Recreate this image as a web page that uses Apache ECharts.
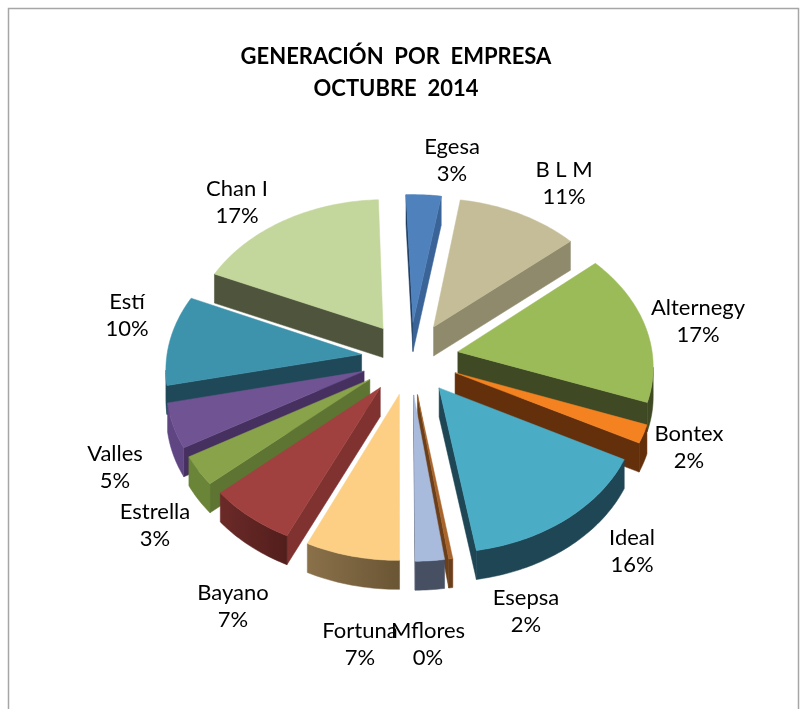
<!DOCTYPE html>
<html>
<head>
<meta charset="utf-8">
<style>html,body{margin:0;padding:0;background:#fff}#c{width:811px;height:709px}</style>
<script src="https://cdn.jsdelivr.net/npm/echarts@6/dist/echarts.min.js"></script>
</head>
<body>
<div id="c"></div>
<script>
// ---- data (clockwise from the top) ----
const names = ['Egesa','B L M','Alternegy','Bontex','Ideal','Mflores','Esepsa','Fortuna','Bayano','Estrella','Valles','Estí','Chan I'];
const values = [3.2,11.2,16.8,2.0,14.9,0.3,2.15,7.0,6.6,3.2,4.9,10.0,17.8];
const labelPercents = {'Egesa':'3%','B L M':'11%','Alternegy':'17%','Bontex':'2%','Ideal':'16%','Esepsa':'2%','Mflores':'0%','Fortuna':'7%','Bayano':'7%','Estrella':'3%','Valles':'5%','Estí':'10%','Chan I':'17%'};
const titleLines = ['GENERACIÓN  POR  EMPRESA','OCTUBRE  2014'];

// ---- style ----
const topColors  = ['#4F81BD','#C4BD97','#9BBB59','#F58220','#4BACC6','#A8642A','#A9BBDC','#FCCF85','#A0413F','#88A34A','#6F5393','#3E93AC','#C3D69B'];
const sideColors = ['#3A6497','#8F8A6C','#3F4A24','#64300C','#1F4655','#6B3F1A','#474F63','#7A6340','#7F3230','#5E7433','#46305F','#1F4958','#4F553C'];
const rimColors  = ['#3A6497','#8F8A6C','#3F4A24','#64300C','#1F4655','#6B3F1A','#474F63',['#8A714A','#6A5534'],['#6B2A28','#521E1C'],'#6A8438','#5F4683','#1F4958','#4F553C'];
const startDeg = -2.2, explode = 0.25, depth = 29;
const cx = 410, cy = 358, rx = 195, ry = 145, persp = 0.087;
const labelCenters = {'Egesa':[452,160],'B L M':[564,183],'Alternegy':[698,321],'Bontex':[689,447],'Ideal':[632,551],'Esepsa':[526,611],'Mflores':[428,644],'Fortuna':[360,644],'Bayano':[233,606],'Estrella':[155,525],'Valles':[115,467],'Estí':[127,315],'Chan I':[237,202]};

const total = values.reduce((a,b)=>a+b,0);
const rad = d => d*Math.PI/180;
function project(u,v){ const w = 1+persp*v; return [cx+rx*u/w, cy-ry*v/w]; }

let acc = startDeg;
const slices = values.map((val,i)=>{
  const a0 = acc, a1 = acc + val/total*360; acc = a1;
  return {i,a0,a1,mid:(a0+a1)/2};
});
// far slices first, near slices last
const drawOrder = slices.slice().sort((p,q)=>Math.cos(rad(q.mid))-Math.cos(rad(p.mid)));

function down(p){ return [p[0],p[1]+depth]; }
function fillOf(c){
  if(Array.isArray(c)) return new echarts.graphic.LinearGradient(0,0,1,0,[{offset:0,color:c[0]},{offset:1,color:c[1]}]);
  return c;
}
function poly(points,fill){
  return {type:'polygon',shape:{points},style:{fill,stroke:fill,lineWidth:0.5},silent:true};
}
function renderItem(params){
  const s = drawOrder[params.dataIndex];
  const ox = explode*Math.sin(rad(s.mid)), oy = explode*Math.cos(rad(s.mid));
  const apex = project(ox,oy);
  const rim = [];
  const steps = Math.max(2,Math.ceil(s.a1-s.a0));
  for(let k=0;k<=steps;k++){
    const a = rad(s.a0+(s.a1-s.a0)*k/steps);
    rim.push(project(ox+Math.sin(a),oy+Math.cos(a)));
  }
  const first = rim[0], last = rim[rim.length-1];
  const children = [];
  const side = fillOf(sideColors[s.i]);
  if(first[0]<apex[0]) children.push(poly([apex,first,down(first),down(apex)],s.i===0?'#1C3A5E':side));
  if(apex[0]<last[0]) children.push(poly([last,apex,down(apex),down(last)],side));
  // outer wall: the run of rim points that faces the viewer
  const front = [];
  for(let k=0;k<rim.length;k++){
    const prev = rim[k-1], next = rim[k+1];
    if((next && next[0]<rim[k][0]) || (prev && rim[k][0]<prev[0])) front.push(rim[k]);
  }
  if(front.length>1) children.push(poly(front.concat(front.slice().reverse().map(down)),fillOf(rimColors[s.i])));
  children.push(poly([apex].concat(rim),topColors[s.i]));
  return {type:'group',children};
}

const labelGraphics = names.map(n=>({
  type:'text',x:labelCenters[n][0],y:labelCenters[n][1],z:10,silent:true,
  style:{text:n+'\n'+labelPercents[n],fill:'#000',font:'22px Lato',textAlign:'center',textVerticalAlign:'middle',lineHeight:27}
}));

const chart = echarts.init(document.getElementById('c'),null,{renderer:'canvas'});
chart.setOption({
  animation:false,
  backgroundColor:'#fff',
  graphic:[
    {type:'rect',z:0,silent:true,shape:{x:8.5,y:8.5,width:790,height:760},style:{fill:'#fff',stroke:'#a6a6a6',lineWidth:1.5}},
    {type:'text',x:396,y:57,z:10,silent:true,style:{text:titleLines[0],fill:'#000',font:'bold 22px Lato',textAlign:'center',textVerticalAlign:'middle'}},
    {type:'text',x:396,y:89,z:10,silent:true,style:{text:titleLines[1],fill:'#000',font:'bold 22px Lato',textAlign:'center',textVerticalAlign:'middle'}}
  ].concat(labelGraphics),
  series:[{
    type:'custom',
    coordinateSystem:'none',
    z:5,
    data:drawOrder.map(s=>({name:names[s.i],value:values[s.i]})),
    renderItem
  }]
});
</script>
</body>
</html>
